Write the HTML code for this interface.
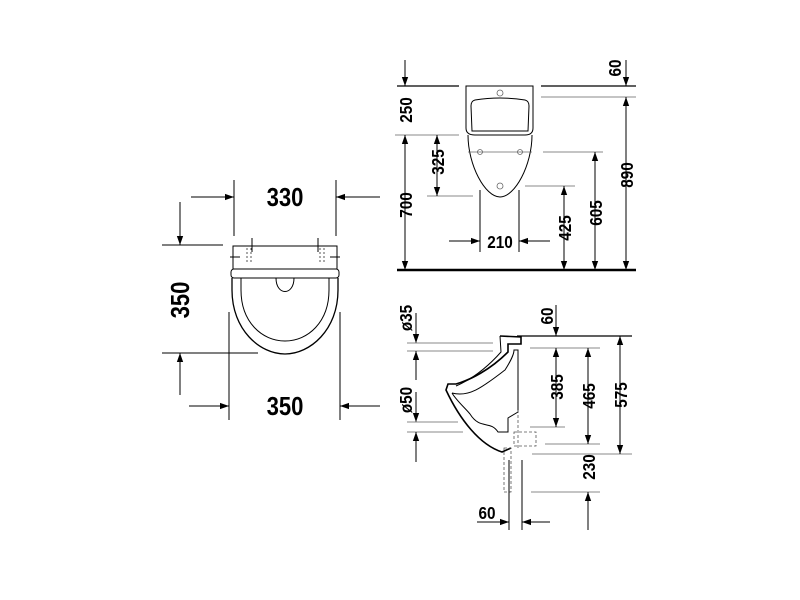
<!DOCTYPE html>
<html><head><meta charset="utf-8"><style>
html,body{margin:0;padding:0;background:#fff;}
svg{display:block;}
text{font-family:"Liberation Sans",sans-serif;font-weight:bold;fill:#000;}
</style></head><body>
<svg width="800" height="600" viewBox="0 0 800 600" xmlns="http://www.w3.org/2000/svg">
<defs>
<marker id="a" viewBox="0 0 10 10" refX="10" refY="5" markerWidth="9" markerHeight="9" markerUnits="userSpaceOnUse" orient="auto"><path d="M0,1.5 L10,5 L0,8.5 z" fill="#000"/></marker>
</defs>
<g stroke="#000" stroke-width="1" fill="none">
<!-- LEFT VIEW -->
<line x1="234" y1="180" x2="234" y2="236"/>
<line x1="336" y1="180" x2="336" y2="236"/>
<line x1="191" y1="197" x2="234" y2="197" marker-end="url(#a)"/>
<line x1="380" y1="197" x2="336" y2="197" marker-end="url(#a)"/>
<line x1="162" y1="245" x2="223" y2="245"/>
<line x1="180" y1="202" x2="180" y2="245" marker-end="url(#a)"/>
<line x1="162" y1="353" x2="258" y2="353"/>
<line x1="180" y1="395" x2="180" y2="353" marker-end="url(#a)"/>
<line x1="229" y1="312" x2="229" y2="420"/>
<line x1="340" y1="312" x2="340" y2="420"/>
<line x1="189" y1="406" x2="229" y2="406" marker-end="url(#a)"/>
<line x1="380" y1="406" x2="340" y2="406" marker-end="url(#a)"/>
<rect x="233" y="246" width="104" height="23"/>
<rect x="231" y="269" width="108" height="9" rx="3"/>
<path d="M232,278 L232,290 C232,330 260,354 285,354 C310,354 338,330 338,290 L338,278" stroke-width="1.3"/>
<path d="M241,278 L241,290 C241,322 262,341 285,341 C308,341 329,322 329,290 L329,278"/>
<path d="M276,278 C276,296 294,296 294,278"/>
<line x1="252" y1="238" x2="252" y2="252"/><line x1="318" y1="238" x2="318" y2="252"/>
<line x1="230" y1="257" x2="240" y2="257"/><line x1="330" y1="257" x2="340" y2="257"/>
<g stroke-dasharray="2,2" stroke="#555"><line x1="247" y1="248" x2="247" y2="262"/><line x1="251" y1="248" x2="251" y2="262"/><line x1="320" y1="248" x2="320" y2="262"/><line x1="324" y1="248" x2="324" y2="262"/></g>

<!-- TOP RIGHT VIEW -->
<line x1="397" y1="270" x2="636" y2="270" stroke-width="2.5"/>
<line x1="405" y1="60" x2="405" y2="86" marker-end="url(#a)"/>
<line x1="397" y1="86" x2="459" y2="86" stroke-width="1.3"/>
<line x1="395" y1="135" x2="459" y2="135" stroke="#888"/>
<line x1="405" y1="135" x2="405" y2="270" marker-end="url(#a)"/>
<line x1="405" y1="270" x2="405" y2="135" marker-end="url(#a)"/>
<line x1="427" y1="196" x2="473" y2="196" stroke="#888"/>
<line x1="437" y1="135" x2="437" y2="196" marker-end="url(#a)"/>
<line x1="437" y1="196" x2="437" y2="135" marker-end="url(#a)"/>
<path d="M466,86 L533,86 L533,128 Q533,135 525,135 L475,135 Q466,135 466,128 Z"/>
<path d="M475,100 Q500,96 525,100 Q529,101 529,106 L528,131 L472,131 L471,106 Q471,101 475,100 Z"/>
<path d="M468,135 C468,165 485,197 500,197 C515,197 532,165 532,135"/>
<line x1="480" y1="190" x2="480" y2="252"/>
<line x1="519" y1="190" x2="519" y2="252"/>
<line x1="449" y1="241" x2="480" y2="241" marker-end="url(#a)"/>
<line x1="550" y1="241" x2="519" y2="241" marker-end="url(#a)"/>
<line x1="525" y1="186" x2="575" y2="186" stroke="#888"/>
<line x1="564" y1="186" x2="564" y2="270" marker-end="url(#a)"/>
<line x1="564" y1="270" x2="564" y2="186" marker-end="url(#a)"/>
<line x1="543" y1="152" x2="603" y2="152" stroke="#888"/>
<line x1="595" y1="152" x2="595" y2="270" marker-end="url(#a)"/>
<line x1="595" y1="270" x2="595" y2="152" marker-end="url(#a)"/>
<line x1="541" y1="86" x2="636" y2="86" stroke-width="1.3"/>
<line x1="541" y1="97" x2="636" y2="97" stroke="#888"/>
<line x1="626" y1="60" x2="626" y2="86" marker-end="url(#a)"/>
<line x1="626" y1="97" x2="626" y2="270" marker-end="url(#a)"/>
<line x1="626" y1="270" x2="626" y2="97" marker-end="url(#a)"/>
<g stroke="#666" stroke-width="0.8"><circle cx="500" cy="93" r="3"/><circle cx="500" cy="186" r="3"/><circle cx="480" cy="152" r="2.5"/><circle cx="520" cy="152" r="2.5"/><line x1="468" y1="152" x2="532" y2="152"/></g>

<!-- BOTTOM RIGHT VIEW -->
<line x1="416" y1="313" x2="416" y2="343" marker-end="url(#a)"/>
<line x1="407" y1="343" x2="493" y2="343" stroke="#888"/>
<line x1="407" y1="351" x2="493" y2="351" stroke="#888"/>
<line x1="416" y1="380" x2="416" y2="351" marker-end="url(#a)"/>
<line x1="416" y1="392" x2="416" y2="422" marker-end="url(#a)"/>
<line x1="407" y1="422" x2="458" y2="422" stroke="#888"/>
<line x1="407" y1="432" x2="463" y2="432" stroke="#888"/>
<line x1="416" y1="462" x2="416" y2="432" marker-end="url(#a)"/>
<path d="M500,336 L521,337 L521,344 L508,344 L508,352 C490,370 470,380 456,384 L448,384 L446,390 C460,420 480,445 502,452 L511,448" stroke-width="1.6"/>
<path d="M500,336 L501,352 C485,370 470,380 456,386"/>
<path d="M452,393 C470,398 485,385 505,370 C510,362 514,355 514,350 L518,350 L518,412 L508,418 L508,432 L498,432 C490,420 480,430 470,414 C465,408 456,400 452,393"/>
<g stroke="#555" stroke-dasharray="3,2" stroke-width="0.8"><rect x="514" y="432" width="22" height="14"/><rect x="504" y="448" width="7" height="44"/><line x1="518" y1="410" x2="518" y2="450"/></g>
<line x1="556" y1="305" x2="556" y2="336" marker-end="url(#a)"/>
<line x1="517" y1="336" x2="632" y2="336" stroke-width="1.3"/>
<line x1="530" y1="348" x2="600" y2="348" stroke="#888"/>
<line x1="530" y1="427" x2="565" y2="427" stroke="#888"/>
<line x1="556" y1="348" x2="556" y2="427" marker-end="url(#a)"/>
<line x1="556" y1="427" x2="556" y2="348" marker-end="url(#a)"/>
<line x1="545" y1="444" x2="600" y2="444" stroke="#888"/>
<line x1="588" y1="348" x2="588" y2="444" marker-end="url(#a)"/>
<line x1="588" y1="444" x2="588" y2="348" marker-end="url(#a)"/>
<line x1="532" y1="454" x2="632" y2="454" stroke="#888"/>
<line x1="620" y1="336" x2="620" y2="454" marker-end="url(#a)"/>
<line x1="620" y1="454" x2="620" y2="336" marker-end="url(#a)"/>
<line x1="531" y1="492" x2="600" y2="492" stroke="#888"/>
<line x1="588" y1="530" x2="588" y2="492" marker-end="url(#a)"/>
<line x1="509" y1="460" x2="509" y2="530"/>
<line x1="522" y1="460" x2="522" y2="530"/>
<line x1="477" y1="522" x2="509" y2="522" marker-end="url(#a)"/>
<line x1="550" y1="522" x2="522" y2="522" marker-end="url(#a)"/>
</g>
<g font-size="26">
<text transform="translate(285 206) scale(0.85 1)" text-anchor="middle">330</text>
<text transform="translate(285 415) scale(0.85 1)" text-anchor="middle">350</text>
<text transform="translate(189 300) rotate(-90) scale(0.85 1)" text-anchor="middle">350</text>
</g>
<g font-size="18">
<text transform="translate(412 110) rotate(-90) scale(0.85 1)" text-anchor="middle">250</text>
<text transform="translate(412 205) rotate(-90) scale(0.85 1)" text-anchor="middle">700</text>
<text transform="translate(444 162) rotate(-90) scale(0.85 1)" text-anchor="middle">325</text>
<text transform="translate(571 228) rotate(-90) scale(0.85 1)" text-anchor="middle">425</text>
<text transform="translate(602 213) rotate(-90) scale(0.85 1)" text-anchor="middle">605</text>
<text transform="translate(633 175) rotate(-90) scale(0.85 1)" text-anchor="middle">890</text>
<text transform="translate(621 68) rotate(-90) scale(0.85 1)" text-anchor="middle">60</text>
<text transform="translate(500 248) scale(0.85 1)" text-anchor="middle">210</text>
<text transform="translate(412 318) rotate(-90) scale(0.85 1)" text-anchor="middle">ø35</text>
<text transform="translate(412 400) rotate(-90) scale(0.85 1)" text-anchor="middle">ø50</text>
<text transform="translate(553 316) rotate(-90) scale(0.85 1)" text-anchor="middle">60</text>
<text transform="translate(563 387) rotate(-90) scale(0.85 1)" text-anchor="middle">385</text>
<text transform="translate(595 396) rotate(-90) scale(0.85 1)" text-anchor="middle">465</text>
<text transform="translate(627 395) rotate(-90) scale(0.85 1)" text-anchor="middle">575</text>
<text transform="translate(595 467) rotate(-90) scale(0.85 1)" text-anchor="middle">230</text>
<text transform="translate(487 519) scale(0.85 1)" text-anchor="middle">60</text>
</g>
</svg>
</body></html>
